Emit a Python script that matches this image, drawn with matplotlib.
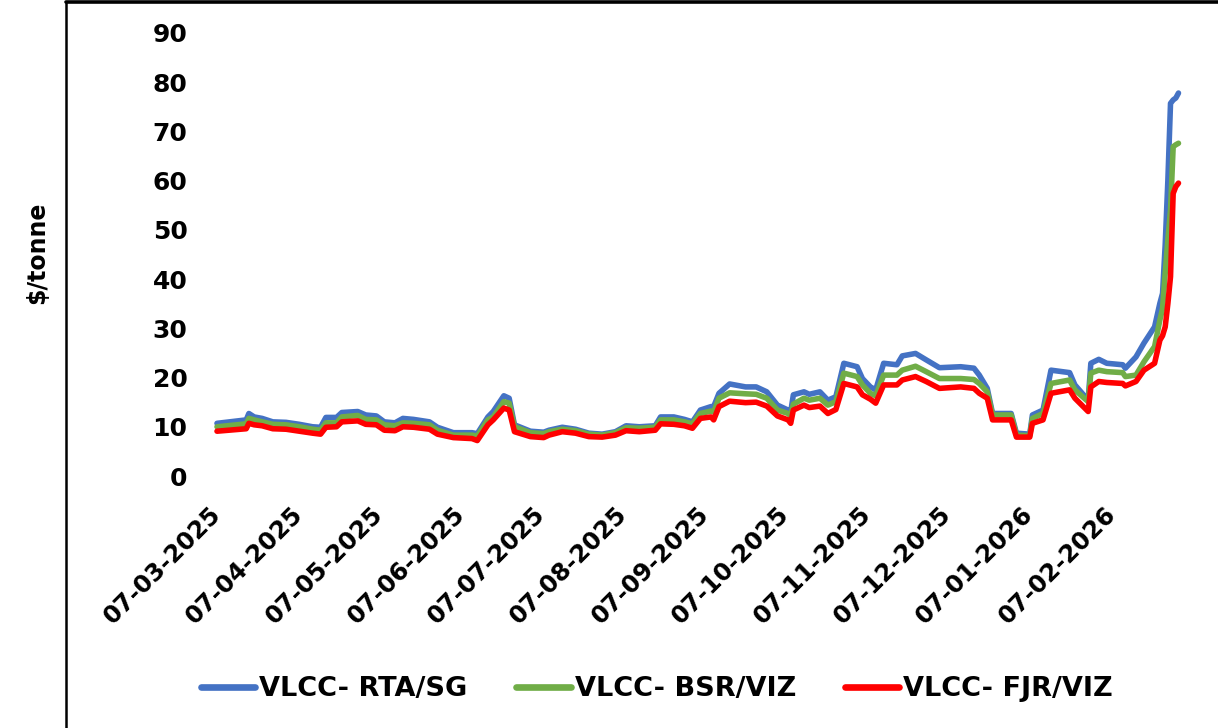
import pandas as pd
import matplotlib
matplotlib.use("Agg")
import matplotlib.pyplot as plt
from matplotlib.lines import Line2D

# readings (dd-mm-yyyy axis, values in $/tonne)
dates = ["2025-03-07", "2025-03-18", "2025-03-19", "2025-03-21", "2025-03-24", "2025-03-28",
         "2025-04-02", "2025-04-07", "2025-04-12", "2025-04-15", "2025-04-17", "2025-04-21",
         "2025-04-23", "2025-04-29", "2025-05-02", "2025-05-06", "2025-05-09", "2025-05-13",
         "2025-05-16", "2025-05-20", "2025-05-26", "2025-05-29", "2025-06-04", "2025-06-11",
         "2025-06-13", "2025-06-17", "2025-06-19", "2025-06-23", "2025-06-25", "2025-06-27",
         "2025-07-03", "2025-07-08", "2025-07-10", "2025-07-15", "2025-07-20", "2025-07-25",
         "2025-07-30", "2025-08-04", "2025-08-08", "2025-08-13", "2025-08-19", "2025-08-21",
         "2025-08-26", "2025-08-30", "2025-09-02", "2025-09-05", "2025-09-09", "2025-09-10",
         "2025-09-12", "2025-09-16", "2025-09-22", "2025-09-26", "2025-09-30", "2025-10-04",
         "2025-10-08", "2025-10-09", "2025-10-10", "2025-10-14", "2025-10-16", "2025-10-20",
         "2025-10-23", "2025-10-26", "2025-10-29", "2025-11-03", "2025-11-05", "2025-11-08",
         "2025-11-10", "2025-11-13", "2025-11-18", "2025-11-20", "2025-11-25", "2025-11-29",
         "2025-12-04", "2025-12-12", "2025-12-17", "2025-12-19", "2025-12-22", "2025-12-24",
         "2025-12-31", "2026-01-02", "2026-01-07", "2026-01-08", "2026-01-12", "2026-01-15",
         "2026-01-22", "2026-01-24", "2026-01-29", "2026-01-30", "2026-02-02", "2026-02-05",
         "2026-02-11", "2026-02-12", "2026-02-16", "2026-02-19", "2026-02-23", "2026-02-25",
         "2026-02-26", "2026-02-27", "2026-02-28", "2026-03-01", "2026-03-02", "2026-03-03",
         "2026-03-04"]

rta_sg = [10.7, 11.4, 12.7, 12.0, 11.7, 11.0,
          10.9, 10.5, 10.0, 9.9, 11.9, 11.9,
          12.9, 13.1, 12.4, 12.2, 11.0, 10.8,
          11.7, 11.5, 11.0, 9.9, 8.8, 8.8,
          8.6, 12.0, 13.1, 16.3, 15.8, 10.4,
          9.1, 8.9, 9.3, 9.9, 9.5, 8.7,
          8.5, 9.0, 10.2, 10.0, 10.2, 12.0,
          12.0, 11.5, 11.0, 13.4, 14.1, 14.1,
          16.8, 18.7, 18.1, 18.1, 17.1, 14.4,
          13.4, 13.0, 16.5, 17.1, 16.6, 17.1,
          15.4, 16.1, 22.9, 22.2, 19.8, 18.1,
          17.5, 22.9, 22.6, 24.4, 24.9, 23.6,
          22.0, 22.2, 21.9, 20.5, 17.8, 12.7,
          12.7, 8.7, 8.5, 12.4, 13.4, 21.5,
          21.0, 18.5, 15.4, 22.9, 23.7, 22.9,
          22.6, 21.9, 24.2, 27.0, 30.3, 35.1,
          37.1, 47.0, 60.0, 75.7, 76.4, 76.8,
          77.8]

bsr_viz = [10.0, 10.6, 11.7, 11.4, 11.0, 10.5,
           10.4, 10.0, 9.5, 9.3, 10.8, 10.8,
           12.0, 12.3, 11.5, 11.4, 10.4, 10.2,
           10.8, 10.7, 10.4, 9.3, 8.3, 8.3,
           8.1, 11.4, 12.0, 15.1, 14.8, 10.0,
           8.8, 8.6, 9.0, 9.5, 9.2, 8.5,
           8.3, 8.8, 9.8, 9.7, 9.9, 11.4,
           11.4, 11.0, 10.6, 12.7, 13.2, 13.0,
           15.8, 16.9, 16.7, 16.6, 15.8, 13.4,
           12.7, 12.2, 14.6, 15.8, 15.4, 15.8,
           14.4, 15.1, 20.9, 20.2, 18.5, 16.8,
           16.3, 20.5, 20.5, 21.5, 22.3, 21.2,
           19.8, 19.8, 19.6, 18.8, 17.1, 12.4,
           12.4, 8.3, 8.2, 11.7, 12.7, 18.8,
           19.5, 17.5, 15.1, 20.9, 21.5, 21.2,
           21.0, 20.2, 20.5, 23.2, 26.3, 31.7,
           34.0, 41.2, 48.0, 54.0, 66.9, 67.3,
           67.6]

fjr_viz = [9.1, 9.6, 10.7, 10.4, 10.2, 9.6,
           9.5, 9.1, 8.7, 8.5, 9.9, 10.0,
           11.0, 11.2, 10.5, 10.4, 9.3, 9.2,
           10.0, 9.9, 9.5, 8.5, 7.8, 7.6,
           7.2, 10.4, 11.4, 13.8, 13.4, 9.0,
           8.0, 7.8, 8.3, 9.0, 8.7, 8.0,
           7.9, 8.3, 9.2, 9.0, 9.3, 10.6,
           10.5, 10.2, 9.7, 11.7, 12.0, 11.4,
           14.1, 15.2, 14.9, 15.0, 14.2, 12.2,
           11.4, 10.7, 13.4, 14.4, 13.9, 14.2,
           12.7, 13.5, 18.8, 18.1, 16.5, 15.6,
           14.8, 18.5, 18.5, 19.5, 20.2, 19.2,
           17.8, 18.1, 17.8, 16.8, 15.8, 11.4,
           11.4, 7.9, 7.9, 10.7, 11.4, 16.8,
           17.5, 15.8, 13.1, 18.1, 19.2, 19.0,
           18.8, 18.3, 19.2, 21.5, 22.9, 27.6,
           28.5, 30.3, 35.0, 40.5, 57.4, 58.8,
           59.5]

series_names = ["VLCC- RTA/SG", "VLCC- BSR/VIZ", "VLCC- FJR/VIZ"]
series_colors = ["#4472C4", "#70AD47", "#FF0000"]
tick_dates = ["2025-03-07", "2025-04-07", "2025-05-07", "2025-06-07", "2025-07-07",
              "2025-08-07", "2025-09-07", "2025-10-07", "2025-11-07", "2025-12-07",
              "2026-01-07", "2026-02-07"]
y_ticks = [0, 10, 20, 30, 40, 50, 60, 70, 80, 90]

df = pd.DataFrame({"date": pd.to_datetime(dates), "rta": rta_sg, "bsr": bsr_viz, "fjr": fjr_viz})
ticks = pd.to_datetime(tick_dates)

plt.rcParams["font.family"] = "DejaVu Sans"
plt.rcParams["font.weight"] = "bold"

fig = plt.figure(figsize=(12.18, 7.28), dpi=100)
W, H = 1218, 728
# plot box in pixels: x 200..1200, y 33..476
ax = fig.add_axes([200 / W, 1 - 476 / H, 1000 / W, (476 - 33) / H])

for col, name, c in zip(["rta", "bsr", "fjr"], series_names, series_colors):
    ax.plot(df["date"], df[col], color=c, lw=4.0, label=name,
            solid_capstyle="round", solid_joinstyle="round", clip_on=False)

start = pd.Timestamp("2025-03-07")
ax.set_xlim(start - pd.Timedelta(days=6.4), start + pd.Timedelta(days=370.1))
ax.set_ylim(0, 90)

ax.set_yticks(y_ticks)
ax.set_yticklabels([str(v) for v in y_ticks], fontsize=18, fontweight="bold")
ax.set_xticks(ticks)
ax.set_xticklabels([d.strftime("%d-%m-%Y") for d in ticks], fontsize=17.5, fontweight="bold",
                   rotation=45, ha="right", va="center", rotation_mode="anchor")
ax.tick_params(axis="y", length=0, pad=9)
ax.tick_params(axis="x", length=0, pad=25)
for s in ax.spines.values():
    s.set_visible(False)

fig.text(37 / W, 1 - 253 / H, "$/tonne", rotation=90, ha="center", va="center",
         fontsize=17, fontweight="bold")

leg = fig.legend(loc="center", bbox_to_anchor=(657 / W, 1 - 689 / H), ncol=3, frameon=False,
                 handlelength=2.0, handletextpad=0.15, columnspacing=1.8,
                 prop={"weight": "bold", "size": 19.5})
for h in leg.get_lines():
    h.set_linewidth(4.8)
    h.set_solid_capstyle("round")

# chart-area border (left and top edges)
fig.add_artist(Line2D([66 / W, 66 / W], [0, 1 - 1.5 / H], transform=fig.transFigure,
                      color="black", lw=1.8))
fig.add_artist(Line2D([66 / W, 1], [1 - 1.5 / H, 1 - 1.5 / H], transform=fig.transFigure,
                      color="black", lw=2.6, solid_capstyle="round"))

fig.savefig("out.png", dpi=100)
